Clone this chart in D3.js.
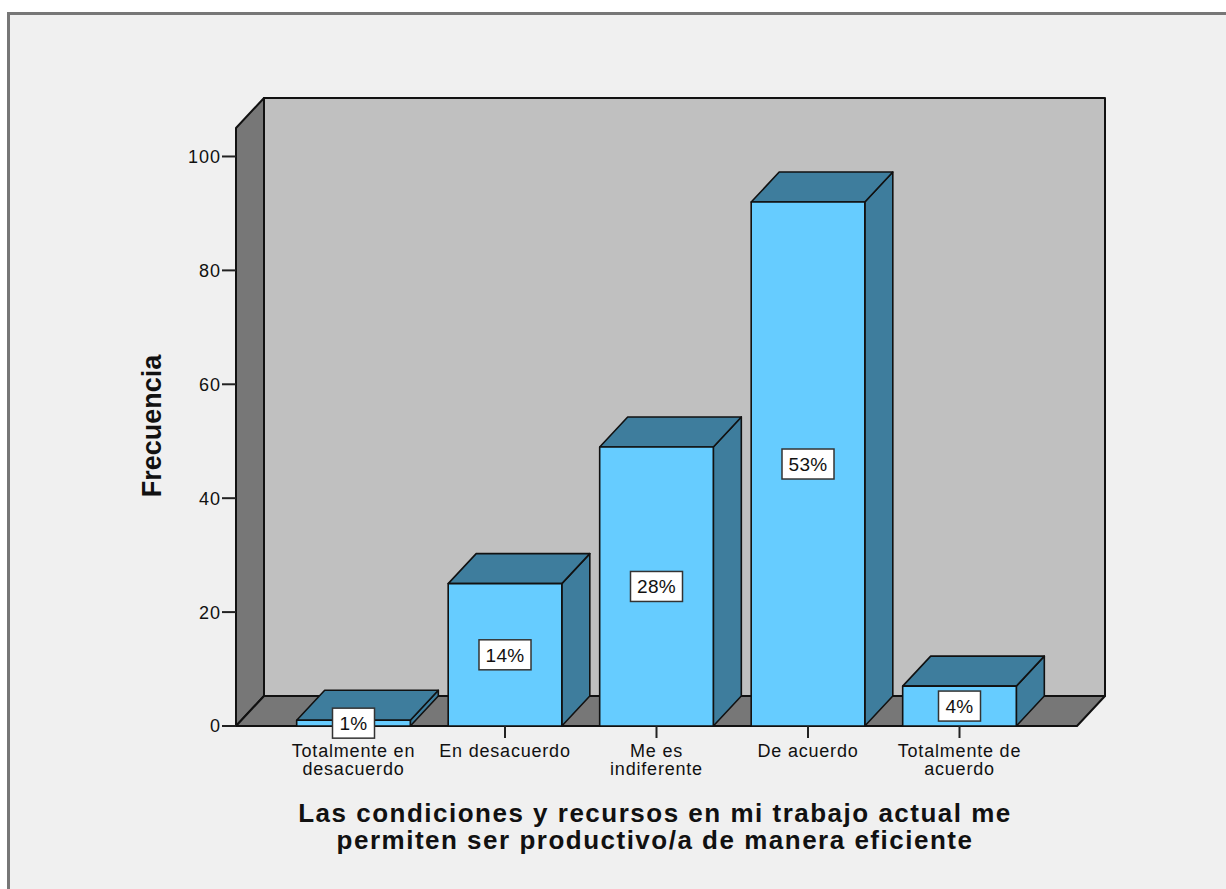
<!DOCTYPE html>
<html>
<head>
<meta charset="utf-8">
<script src="https://cdn.jsdelivr.net/npm/d3@7"></script>
<style>
  html, body { margin: 0; padding: 0; background: #ffffff; }
  svg { display: block; }
  text { font-family: "Liberation Sans", Arial, sans-serif; fill: #111; }
</style>
</head>
<body>
<svg id="chart" width="1226" height="889"></svg>
<script>
// Frequencies per response category
const categories = [
  ["Totalmente en", "desacuerdo"],
  ["En desacuerdo"],
  ["Me es", "indiferente"],
  ["De acuerdo"],
  ["Totalmente de", "acuerdo"]
];
const counts = [1, 25, 49, 92, 7];
const yTicks = [0, 20, 40, 60, 80, 100];
const yMax = 105;
const yTitle = "Frecuencia";
const xTitle = ["Las condiciones y recursos en mi trabajo actual me",
                "permiten ser productivo/a de manera eficiente"];

const svg = d3.select("#chart");
const W = 1226, H = 889;

// Layout of the 3D plot box
const floorY = 726, topY = 128;
const leftX = 236, rightX = 1077;
const depthX = 28, depthY = 30;

const y = d3.scaleLinear().domain([0, yMax]).range([floorY, topY]);
const keys = categories.map((c, i) => i);
const x = d3.scaleBand().domain(keys).range([277.75, 1035.25])
  .paddingInner(0.25).paddingOuter(0.125);

const total = d3.sum(counts);
const pct = d => d3.format(".0f")(d / total * 100) + "%";

// Panel background and frame
svg.append("rect").attr("x", 8.5).attr("y", 13.5)
  .attr("width", W + 20).attr("height", H + 20)
  .attr("fill", "#f0f0f0").attr("stroke", "#777").attr("stroke-width", 3);

const pts = a => a.map(p => p.join(",")).join(" ");
const wall = svg.append("g").attr("stroke", "#111").attr("stroke-width", 2)
  .attr("stroke-linejoin", "round");

// Back wall
wall.append("polygon").attr("fill", "#c0c0c0").attr("points", pts([
  [leftX + depthX, topY - depthY], [rightX + depthX, topY - depthY],
  [rightX + depthX, floorY - depthY], [leftX + depthX, floorY - depthY]]));
// Left wall
wall.append("polygon").attr("fill", "#777777").attr("points", pts([
  [leftX, floorY], [leftX, topY], [leftX + depthX, topY - depthY],
  [leftX + depthX, floorY - depthY]]));
// Floor
wall.append("polygon").attr("fill", "#777777").attr("points", pts([
  [leftX, floorY], [leftX + depthX, floorY - depthY],
  [rightX + depthX, floorY - depthY], [rightX, floorY]]));

// Y ticks and labels
const yAxis = svg.append("g");
yTicks.forEach(t => {
  yAxis.append("line").attr("x1", leftX - 14).attr("x2", leftX)
    .attr("y1", y(t)).attr("y2", y(t)).attr("stroke", "#222").attr("stroke-width", 2);
  yAxis.append("text").attr("x", leftX - 15).attr("y", y(t))
    .attr("dy", "0.36em").attr("text-anchor", "end")
    .style("font-size", "18px").style("letter-spacing", "1px")
    .text(t);
});

// 3D bars
const bars = svg.append("g").attr("stroke", "#111").attr("stroke-width", 1.6)
  .attr("stroke-linejoin", "round");
counts.forEach((v, i) => {
  const x0 = x(i), x1 = x(i) + x.bandwidth();
  const yt = y(v), yb = y(0);
  const g = bars.append("g");
  // side
  g.append("polygon").attr("fill", "#3e7d9d").attr("points", pts([
    [x1, yb], [x1, yt], [x1 + depthX, yt - depthY], [x1 + depthX, yb - depthY]]));
  // top
  g.append("polygon").attr("fill", "#3e7d9d").attr("points", pts([
    [x0, yt], [x0 + depthX, yt - depthY], [x1 + depthX, yt - depthY], [x1, yt]]));
  // front
  g.append("rect").attr("x", x0).attr("y", yt)
    .attr("width", x1 - x0).attr("height", yb - yt).attr("fill", "#66ccff");
});

// X ticks and category labels
categories.forEach((lines, i) => {
  const cx = x(i) + x.bandwidth() / 2;
  svg.append("line").attr("x1", cx).attr("x2", cx)
    .attr("y1", floorY).attr("y2", floorY + 12)
    .attr("stroke", "#222").attr("stroke-width", 2);
  const t = svg.append("text").attr("text-anchor", "middle")
    .style("font-size", "18px").style("letter-spacing", "0.8px");
  lines.forEach((ln, k) => {
    t.append("tspan").attr("x", cx).attr("y", 757 + k * 18).text(ln);
  });
});

// Percentage labels
counts.forEach((v, i) => {
  const cx = x(i) + x.bandwidth() / 2;
  const cy = (y(v) + y(0)) / 2;
  const lbl = pct(v);
  const w = 22 + lbl.length * 10;
  svg.append("rect").attr("x", cx - w / 2).attr("y", cy - 15)
    .attr("width", w).attr("height", 30)
    .attr("fill", "#ffffff").attr("stroke", "#333").attr("stroke-width", 1.5);
  svg.append("text").attr("x", cx).attr("y", cy).attr("dy", "0.36em")
    .attr("text-anchor", "middle").style("font-size", "19px")
    .style("letter-spacing", "0.3px").text(lbl);
});

// Axis titles
svg.append("text")
  .attr("transform", `translate(161,426) rotate(-90)`)
  .attr("text-anchor", "middle")
  .style("font-size", "27px").style("font-weight", "bold")
  .text(yTitle);

const xt = svg.append("text").attr("text-anchor", "middle")
  .style("font-size", "26px").style("font-weight", "bold")
  .style("letter-spacing", "1.5px");
xTitle.forEach((ln, k) => {
  xt.append("tspan").attr("x", 655).attr("y", 822 + k * 27).text(ln);
});
</script>
</body>
</html>
